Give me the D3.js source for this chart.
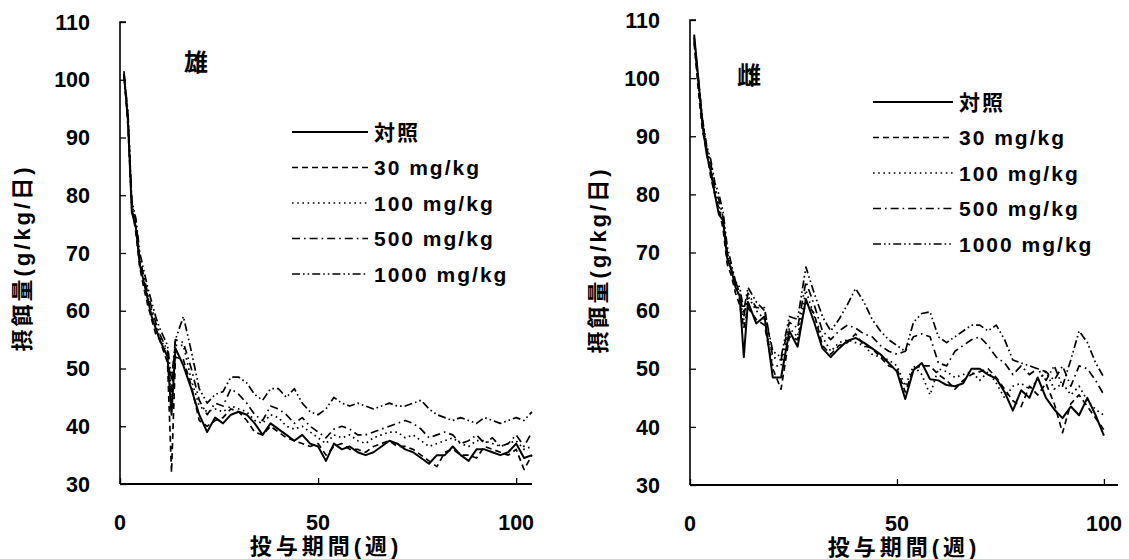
<!DOCTYPE html>
<html><head><meta charset="utf-8">
<script src="https://cdn.jsdelivr.net/npm/d3@7"></script>
<style>
body{margin:0;background:#fff;}
svg{display:block;}
text{font-family:"Liberation Sans","Noto Sans CJK JP",sans-serif;font-weight:bold;fill:#000;}
</style></head>
<body>
<svg id="c" width="1129" height="559"></svg>
<script>
// ---------- data ----------
const seriesNames = ["対照", "30 mg/kg", "100 mg/kg", "500 mg/kg", "1000 mg/kg"];
const yTicks = [30, 40, 50, 60, 70, 80, 90, 100, 110];
const xTicks = [0, 50, 100];
const panelTitles = ["雄", "雌"];
const xTitle = "投与期間(週)";
const yTitle = "摂餌量(g/kg/日)";

const maleWeeks = [1,2,3,4,5,6,7,8,9,10,11,12,13,14,16,18,20,22,24,26,28,30,32,34,36,38,40,42,44,46,48,50,52,54,56,58,60,62,64,66,68,70,72,74,76,78,80,82,84,86,88,90,92,94,96,98,100,102,104];
const maleControl = [101,93,77,74.5,68,65,62,59,57,55,53.5,52,42,53.5,50.5,46.5,42,39,41.5,40.5,42,42.5,42,40.5,38.5,40.5,39.5,38.5,37.5,38.5,37,36.5,34,37,36,36.5,35.5,35,35.5,36.5,37.5,37,36,35.5,34.5,33.5,35,35,36.5,35,34,36,36,35.5,35,35.5,37,34.5,35];
const male30 = [101.5,92,78,73.5,67.5,64,61,58.5,56,55,53,51,32,52,51.5,47,41,40,41,41.5,43,42.5,41,39,38.5,40,39,38,37.5,37,36.5,37,35,36.5,37,36,36,35.5,36.5,37,37.5,36.5,36.5,36,35,34,33,35.5,36,35,35,34.5,36.5,36,35.5,35,36,32.5,35];
const male100 = [100.5,93,77,75,68.5,65.5,62.5,60,57.5,55.5,54,52.5,44,54,54,48,43.5,42.5,43,42.5,43.5,43,42.5,41,40.5,42,41.5,40,39.5,40,39,38,37,38.5,38,38.5,37.5,37,38,38.5,39,39,38,38.5,37.5,36.5,37,37.5,38,37,36.5,37.5,37.5,37,36.5,37,37.5,36,36.5];
const male500 = [101,94,78.5,75.5,69,66,63,60.5,58,56,54.5,53,46,55,54.5,50,44.5,42,44,43.5,46.5,45.5,44,42,41,43.5,43,42,40.5,41.5,40,39,38,39.5,40,39.5,38.5,38.5,39,39.5,40,40.5,41,40.5,39.5,38,38.5,39,38.5,37,37.5,38.5,37,38,36.5,37,38.5,36.5,39];
const male1000 = [101,94.5,79,76,70,67,64,61.5,59,57,55.5,54,48,55,59,53,46.5,44,45.5,46,48.5,48.5,47.5,45.5,44.5,46.5,46.5,45,46.5,44,42.5,42,43,45,44,43.5,44,43.5,43,43.5,44,43.5,43.5,44,44.5,43,42,41.5,41,41.5,41,40.5,41.5,41,40.5,41,41.5,41,42.5];

const femaleWeeks = [1,2,3,4,5,6,7,8,9,10,11,12,13,14,16,18,20,22,24,26,28,30,32,34,36,38,40,42,44,46,48,50,52,54,56,58,60,62,64,66,68,70,72,74,76,78,80,82,84,86,88,90,92,94,96,98,100];
const femaleControl = [107.5,100,92,87,84,80,76.5,75.5,69,67,64,62.5,52,61.5,57.8,59,48.5,48.5,56.5,53.8,62,58,53.5,52,53.5,54.8,55.3,54.5,53.5,52.5,51,49.5,44.8,49.8,51,48.2,48,47.2,47,47.5,50,50,49,48.3,46,42.8,46.3,45,48.5,45,43,41.5,43.5,42,45,42,38.5];
const female30 = [106,98,91,87.5,83,80,77.5,74,68,66,63,61,57,60.5,58.5,57.5,50,46.5,55.5,55,61.5,59.5,54,52.5,54,54.5,56,54,53.5,52,50.5,50,46,50,50.5,50.5,49,48,46.5,48,49,49.5,50,48.5,46.5,44.5,43.5,47,45.5,47.5,44,39,44,45.5,43.5,41.5,39.5];
const female100 = [107,99,93,88,84,81,78,75,69.5,67.5,64.5,62,58.5,62.5,60,58.5,50.5,50.5,57,55.5,63.5,59,55.5,53,54.5,55,54.5,54,52.5,52,51.5,50.5,47,50.5,49,45.5,50,49.5,48.5,49,49.5,48,49.5,47.5,45,47,47.5,46.5,48,49.5,46.5,47.5,45.5,47,44.5,43,42];
const female500 = [106.5,99.5,92.5,88,85.5,81,79,76,70,67,65,63,59,63,60.5,60.5,52,51.5,58,57,65,61,56.5,55,56.5,57.5,57,56,55.5,54,53,52.5,53,55.5,56,55.5,51,50.5,53,54,55,55.5,54,52,51,49,50.5,49,50,49.5,48,50.5,47,50.5,50,48,45.5];
const female1000 = [107,100,93,88.5,86,82,80,77,71,68,65,64,60,64,61.5,60,53,52,59,58.5,67.5,63,59,56.5,58.5,61,63.8,61.5,58.5,56.5,55,54,53,58,59.5,59.8,55.5,54.5,55.5,56.5,57.5,57.5,56.5,57.5,55,51.5,51,50.5,50,48,50.5,47,51.5,56.5,54.5,51,48.5];

// ---------- styles ----------
const dashes = [null, "6,4", "1.6,3.6", "8,4,1.6,4", "8,3,1.6,3,1.6,3"];
const widths = [2, 1.7, 1.7, 1.7, 1.7];

const svg = d3.select("#c");

function drawPanel(opt) {
  const x = d3.scaleLinear().domain([0, opt.xMax]).range([opt.x0, opt.x1]);
  const y = d3.scaleLinear().domain([30, 110]).range([opt.yBottom, opt.yTop]);
  const g = svg.append("g");

  // axes
  const yAxis = g.append("g").attr("transform", `translate(${opt.x0},0)`)
    .call(d3.axisRight(y).tickValues(yTicks).tickSize(6).tickFormat(""));
  yAxis.select(".domain").attr("d", `M6,${opt.yTop}H0V${opt.yBottom}`).attr("stroke-width", 1.6);
  yAxis.selectAll(".tick line").attr("stroke-width", 1.3);

  const xAxis = g.append("g").attr("transform", `translate(0,${opt.yBottom})`)
    .call(d3.axisTop(x).tickValues(xTicks).tickSize(6).tickFormat(""));
  xAxis.select(".domain").attr("d", `M${opt.x0},0H${opt.x1}`).attr("stroke-width", 2.2);
  xAxis.selectAll(".tick line").attr("stroke-width", 1.3);

  // tick labels
  g.selectAll(".yl").data(yTicks).join("text")
    .attr("x", opt.x0 - 30).attr("y", d => y(d)).attr("dy", "0.36em")
    .attr("text-anchor", "end").attr("font-size", 21.5).text(d => d);
  g.selectAll(".xl").data(xTicks).join("text")
    .attr("x", d => x(d)).attr("y", opt.yBottom + 38).attr("dy", "0.36em")
    .attr("text-anchor", "middle").attr("font-size", 21.5).text(d => d);

  // axis titles
  g.append("text").attr("x", (opt.x0 + opt.x1) / 2).attr("y", opt.yBottom + 62).attr("dy", "0.36em")
    .attr("text-anchor", "middle").attr("font-size", 22).attr("letter-spacing", 4).text(xTitle);
  g.append("text").attr("transform", `translate(${opt.yTitleX},${opt.yTitleY}) rotate(-90)`)
    .attr("text-anchor", "middle").attr("dy", "0.35em").attr("font-size", 22)
    .attr("letter-spacing", 3).text(yTitle);

  // panel title
  g.append("text").attr("x", opt.titleX).attr("y", opt.titleY).attr("dy", "0.36em")
    .attr("text-anchor", "middle").attr("font-size", 24).text(opt.title);

  // series
  const line = d3.line().x(d => x(d[0])).y(d => y(d[1]));
  opt.series.forEach((vals, i) => {
    const pts = opt.weeks.map((w, j) => [w, vals[j]]);
    g.append("path").datum(pts).attr("d", line)
      .attr("fill", "none").attr("stroke", "#000")
      .attr("stroke-width", widths[i])
      .attr("stroke-dasharray", dashes[i])
      .attr("stroke-linejoin", "round");
  });

  // legend
  seriesNames.forEach((name, i) => {
    const ly = opt.legY + i * 35.5;
    g.append("line").attr("x1", opt.legX).attr("x2", opt.legX + opt.legLen)
      .attr("y1", ly).attr("y2", ly).attr("stroke", "#000")
      .attr("stroke-width", widths[i]).attr("stroke-dasharray", dashes[i]);
    g.append("text").attr("x", opt.legX + opt.legLen + 6).attr("y", ly).attr("dy", "0.36em")
      .attr("font-size", 21).attr("letter-spacing", 2).text(name);
  });
}

drawPanel({
  x0: 120, x1: 532, xMax: 104, yTop: 22, yBottom: 484,
  weeks: maleWeeks, series: [maleControl, male30, male100, male500, male1000],
  title: panelTitles[0], titleX: 196, titleY: 62,
  yTitleX: 22, yTitleY: 258,
  legX: 292, legLen: 76, legY: 132
});
drawPanel({
  x0: 690, x1: 1118, xMax: 103.4, yTop: 20, yBottom: 485,
  weeks: femaleWeeks, series: [femaleControl, female30, female100, female500, female1000],
  title: panelTitles[1], titleX: 749, titleY: 75,
  yTitleX: 598, yTitleY: 260,
  legX: 873, legLen: 80, legY: 102
});
</script>
</body></html>
